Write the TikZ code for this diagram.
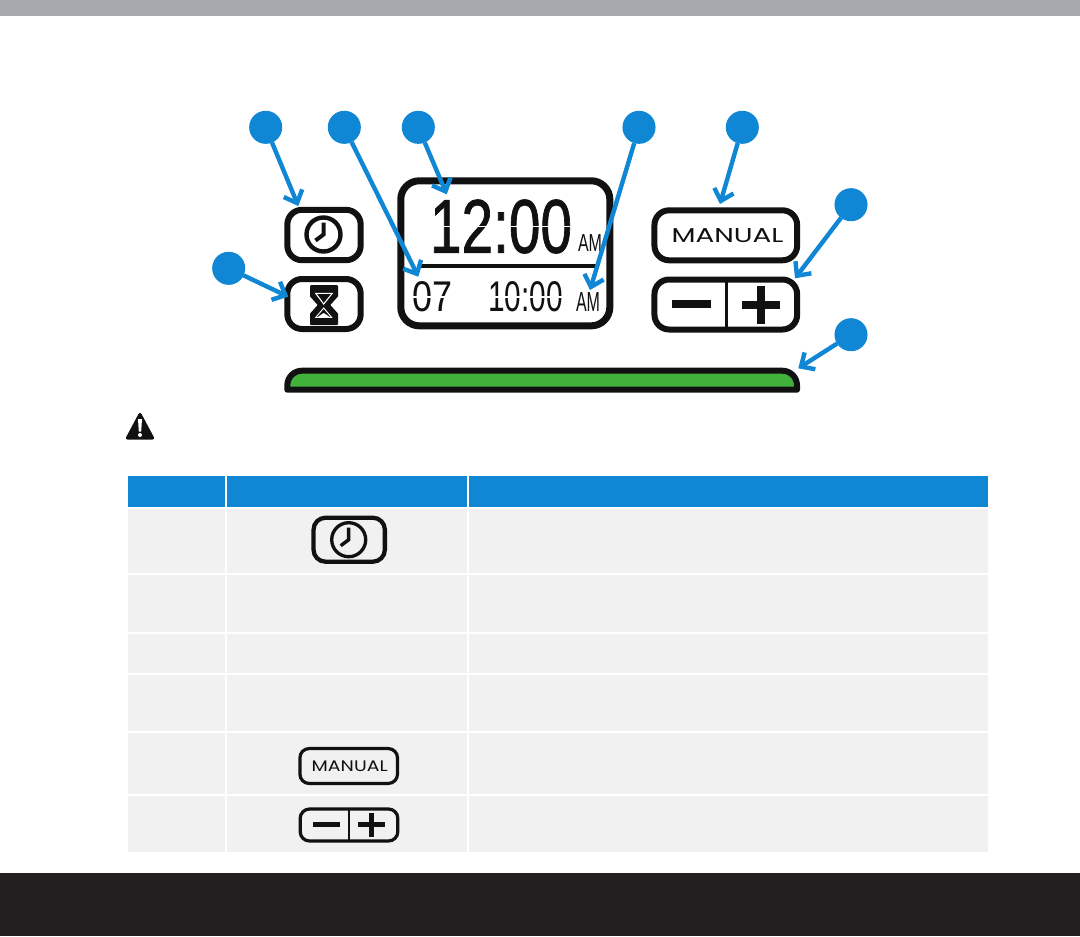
\documentclass[tikz,border=0pt]{standalone}
\usepackage{graphicx}
\usepackage{fontspec}
\usetikzlibrary{arrows.meta}
\setmainfont{Liberation Sans}
\newfontfamily\manualfont{Poppins}
\newfontfamily\lcdfont[FakeBold=1.2]{Liberation Sans}
\definecolor{callblue}{HTML}{0F87D5}
\definecolor{cellgrey}{HTML}{F1F1F1}
\definecolor{topgrey}{HTML}{A7A9AE}
\definecolor{footdark}{HTML}{231F20}
\definecolor{iconblack}{HTML}{111111}
\definecolor{bargreen}{HTML}{40B23C}
\tikzset{
  callout/.style={circle,fill=callblue,inner sep=0pt,outer sep=0pt,minimum size=24.8pt},
  callarrow/.style={draw=callblue,line width=3.3pt,-{Straight Barb[length=8pt,width=15pt,line width=3.3pt]}},
  btn/.style={draw=iconblack,line width=4.5pt,rounded corners=11pt,fill=white,inner sep=0pt,outer sep=0pt},
  smallbtn/.style={draw=iconblack,line width=2.4pt,rounded corners=7pt,fill=cellgrey,inner sep=0pt,outer sep=0pt},
  cellbox/.style={fill=cellgrey,draw=none},
  headbox/.style={fill=callblue,draw=none},
  lcdtext/.style={inner sep=0pt,outer sep=0pt,text=iconblack},
  cut/.style={draw=white,line width=.8pt},
}
\newcommand{\clockicon}[4]{% cx cy outer-stroke hand-stroke
  \begin{scope}[shift={(#1,#2)}]
    \draw[iconblack,line width=#3] (0,0) circle[radius=17];
    \draw[iconblack,line width=#4,line join=miter] (0,-12) -- (0,0) -- (-8,6);
  \end{scope}}
\begin{document}
\begin{tikzpicture}[x=0.75pt,y=-0.75pt]
\useasboundingbox (0,0) rectangle (1080,936);
\fill[white] (0,0) rectangle (1080,936);
\fill[topgrey] (0,0) rectangle (1080,16);
\fill[footdark] (0,873) rectangle (1080,936);

% table
\fill[headbox] (128,476) rectangle (225,507);
\fill[headbox] (227,476) rectangle (467,507);
\fill[headbox] (469,476) rectangle (988,507);
\foreach \ya/\yb in {509/573,575/632,634/673,675/731,733/793.5,795.5/851.7}{
  \fill[cellbox] (128,\ya) rectangle (225,\yb);
  \fill[cellbox] (227,\ya) rectangle (467,\yb);
  \fill[cellbox] (469,\ya) rectangle (988,\yb);
}

% warning icon
\fill[iconblack,draw=iconblack,line width=2.4pt,line join=round] (140,414.5) -- (152.5,438) -- (127.5,438) -- cycle;
\fill[white] (138,419) -- (142,419) -- (141.2,431.5) -- (138.8,431.5) -- cycle;
\fill[white] (140,435) circle[radius=2];

% clock button
\node[btn,minimum width=55pt,minimum height=37.8pt] (clockbtn) at (324,235) {};
\clockicon{323.5}{234.5}{3.3pt}{3pt}

% hourglass button
\node[btn,minimum width=55pt,minimum height=37.5pt] (hourbtn) at (324,304) {};
\fill[iconblack,draw=iconblack,line width=1.5pt,line join=round] (311,286) -- (337,286) -- (337,296) -- (329,305) -- (337,314) -- (337,324) -- (311,324) -- (311,314) -- (319,305) -- (311,296) -- cycle;
\draw[white,line width=.8pt,line join=miter] (315.7,293.3) -- (332.3,293.3) -- (323.7,304) -- cycle;
\draw[white,line width=.7pt] (323.7,308) -- (315.7,317.5) -- (331.7,317.5) -- cycle;
\fill[white] (317,317.5) -- (330.5,317.5) -- (323.7,313) -- cycle;

% LCD
\node[draw=iconblack,line width=5.25pt,rounded corners=14pt,fill=white,minimum width=156.8pt,minimum height=108.8pt,inner sep=0pt,outer sep=0pt] (lcd) at (505.3,253.3) {};
\draw[iconblack,line width=2.7pt] (418,265.7) -- (598,265.7);
\node[lcdtext] (bigtime) at (501,226.5) {\resizebox{106.5pt}{39.8pt}{\lcdfont 12:00}};
\node[lcdtext] (bigam) at (590,243.5) {\resizebox{18pt}{12.7pt}{AM}};
\node[lcdtext] (day) at (432,297) {\resizebox{30pt}{22.5pt}{07}};
\node[lcdtext] (smalltime) at (525.5,297) {\resizebox{56pt}{22.5pt}{10:00}};
\node[lcdtext] (smallam) at (588,302.5) {\resizebox{18pt}{14.2pt}{AM}};
\draw[cut] (426,226.5) -- (576,226.5);
\draw[cut] (408,297) -- (566,297);

% manual button
\node[btn,minimum width=107pt,minimum height=37.5pt] (manualbtn) at (725.8,235.3) {};
\node[lcdtext,font=\manualfont] (manualtext) at (727.5,235.5) {\resizebox{84pt}{10.5pt}{MANUAL}};

% minus/plus button
\node[btn,minimum width=107pt,minimum height=37.5pt] (pmbtn) at (725.8,304.5) {};
\draw[iconblack,line width=2.3pt] (726.3,279.5) -- (726.3,329.5);
\fill[iconblack] (671.7,300) rectangle (711,308.3);
\fill[iconblack] (741.7,301) rectangle (780,309.3);
\fill[iconblack] (756.7,286) rectangle (765,324);

% green bar
\draw[draw=iconblack,fill=bargreen,line width=4.5pt,line join=round,rounded corners=11pt] (287.3,389.7) -- (287.3,370.7) -- (797,370.7) [sharp corners] -- (797,389.7) -- cycle;

% table icons
\node[smallbtn,line width=3.2pt,rounded corners=9pt,minimum width=53.5pt,minimum height=33pt] (clocksmall) at (349.2,539.7) {};
\clockicon{348.7}{539.7}{2.5pt}{2.6pt}
\node[smallbtn,minimum width=73.2pt,minimum height=26.2pt] (manualsmall) at (348.7,766) {};
\node[lcdtext,font=\manualfont] (manualsmalltext) at (349.7,766.3) {\resizebox{57pt}{8pt}{MANUAL}};
\node[smallbtn,minimum width=73.2pt,minimum height=24pt] (pmsmall) at (349,825) {};
\draw[iconblack,line width=1.4pt] (348.7,809) -- (348.7,841);
\fill[iconblack] (312.7,821.7) rectangle (340,827);
\fill[iconblack] (357.7,821.7) rectangle (385,827);
\fill[iconblack] (369,813) rectangle (374.4,836.7);

% callouts
\node[callout] (c1) at (265.7,127.3) {};
\node[callout] (c2) at (344.3,127.3) {};
\node[callout] (c3) at (418.3,127.3) {};
\node[callout] (c4) at (639,127.3) {};
\node[callout] (c5) at (742.3,127.3) {};
\node[callout] (c6) at (851,204.7) {};
\node[callout] (c7) at (851,334.7) {};
\node[callout] (c8) at (228.7,268.3) {};
\coordinate (t1) at (298.3,206);
\coordinate (t2) at (418.3,276.7);
\coordinate (t3) at (446.7,194.3);
\coordinate (t4) at (590,290);
\coordinate (t5) at (720,204);
\coordinate (t6) at (795,278.3);
\coordinate (t7) at (798.3,368.3);
\coordinate (t8) at (288.3,296.7);
\foreach \n in {1,...,8}{ \draw[callarrow] (c\n) -- (t\n); }
\end{tikzpicture}
\end{document}
